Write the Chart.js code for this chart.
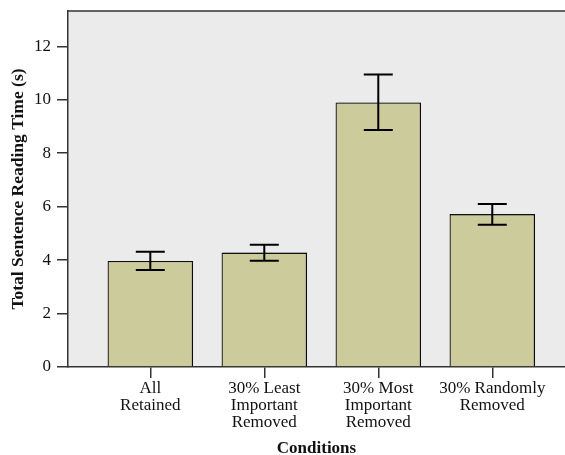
<!DOCTYPE html>
<html>
<head>
<meta charset="utf-8">
<script src="https://cdn.jsdelivr.net/npm/chart.js@4.4.0/dist/chart.umd.min.js"></script>
<style>
  html, body { margin: 0; padding: 0; background: #fff; }
  #wrap { width: 565px; height: 455px; }
</style>
</head>
<body>
<div id="wrap"><canvas id="myChart" width="565" height="455"></canvas></div>
<script>
var conditions = [
	["All", "Retained"],
	["30% Least", "Important", "Removed"],
	["30% Most", "Important", "Removed"],
	["30% Randomly", "Removed"]
];
var meanTime = [3.97, 4.28, 9.90, 5.72];
var errLow = [3.63, 3.98, 8.87, 5.32];
var errHigh = [4.31, 4.57, 10.94, 6.10];
var yTicks = [0, 2, 4, 6, 8, 10, 12];

var points = [];
for (var i = 0; i < meanTime.length; i++) {
	points.push({ x: i, y: meanTime[i] });
}

// grey plot panel + top frame line, shadow on bars, error bars
var panel = {
	id: "panel",
	beforeDraw: function(chart) {
		var a = chart.chartArea, c = chart.ctx;
		c.save();
		c.fillStyle = "#ebebeb";
		c.fillRect(a.left, a.top, a.right - a.left, a.bottom - a.top);
		c.strokeStyle = "#333";
		c.lineWidth = 1.5;
		c.beginPath();
		c.moveTo(a.left, a.top);
		c.lineTo(a.right, a.top);
		c.stroke();
		c.restore();
	},
	beforeDatasetsDraw: function(chart) {
		var c = chart.ctx;
		c.save();
		c.shadowColor = "rgba(0,0,0,0.35)";
		c.shadowOffsetX = 2;
		c.shadowOffsetY = 0;
		c.shadowBlur = 1;
	},
	afterDatasetsDraw: function(chart) {
		var c = chart.ctx;
		c.restore();
		var xs = chart.scales.x, ys = chart.scales.y;
		c.save();
		c.strokeStyle = "#000";
		c.lineWidth = 2;
		for (var i = 0; i < meanTime.length; i++) {
			var px = xs.getPixelForValue(i);
			var lo = ys.getPixelForValue(errLow[i]);
			var hi = ys.getPixelForValue(errHigh[i]);
			c.beginPath();
			c.moveTo(px, lo); c.lineTo(px, hi);
			c.moveTo(px - 14.5, lo); c.lineTo(px + 14.5, lo);
			c.moveTo(px - 14.5, hi); c.lineTo(px + 14.5, hi);
			c.stroke();
		}
		c.restore();
	}
};

var ctx = document.getElementById("myChart");
var myChart = new Chart(ctx, {
	type: "bar",
	data: {
		datasets: [{
			data: points,
			backgroundColor: "#cbcb9b",
			borderColor: "#111",
			borderWidth: 1.3,
			barPercentage: 0.75,
			categoryPercentage: 1
		}]
	},
	plugins: [panel],
	options: {
		responsive: false,
		animation: false,
		layout: { padding: { top: 11, right: 0, left: 0, bottom: 0 } },
		plugins: {
			legend: { display: false },
			tooltip: { enabled: false }
		},
		scales: {
			x: {
				type: "linear",
				offset: false,
				min: -0.722,
				max: 3.638,
				afterBuildTicks: function(scale) {
					scale.ticks = conditions.map(function(c, i) { return { value: i }; });
				},
				afterFit: function(scale) {
					scale.height = 88;
					scale.paddingLeft = 0;
					scale.paddingRight = 0;
				},
				grid: { offset: false, drawOnChartArea: false, drawTicks: true, tickLength: 11, color: "#333", lineWidth: 1.5 },
				border: { display: true, color: "#333", width: 1.5 },
				ticks: {
					autoSkip: false,
					maxRotation: 0,
					padding: 2,
					color: "#111",
					font: { family: "Liberation Serif", size: 17, lineHeight: 1.0 },
					callback: function(v) { return conditions[v]; }
				},
				title: {
					display: true,
					text: "Conditions",
					color: "#111",
					padding: { top: 0, bottom: 0 },
					font: { family: "Liberation Serif", size: 17, weight: "bold", lineHeight: 0.8 }
				}
			},
			y: {
				min: 0,
				max: 13.32,
				afterBuildTicks: function(scale) {
					scale.ticks = yTicks.map(function(v) { return { value: v }; });
				},
				afterFit: function(scale) {
					scale.width = 68;
					scale.paddingTop = 0;
					scale.paddingBottom = 0;
				},
				grid: { drawOnChartArea: false, drawTicks: true, tickLength: 11, color: "#333", lineWidth: 1.5 },
				border: { display: true, color: "#333", width: 1.5 },
				ticks: {
					padding: 6,
					color: "#111",
					font: { family: "Liberation Serif", size: 17 }
				},
				title: {
					display: true,
					text: "Total Sentence Reading Time (s)",
					color: "#111",
					padding: { top: 8, bottom: 0 },
					font: { family: "Liberation Serif", size: 17.5, weight: "bold" }
				}
			}
		}
	}
});
</script>
</body>
</html>
